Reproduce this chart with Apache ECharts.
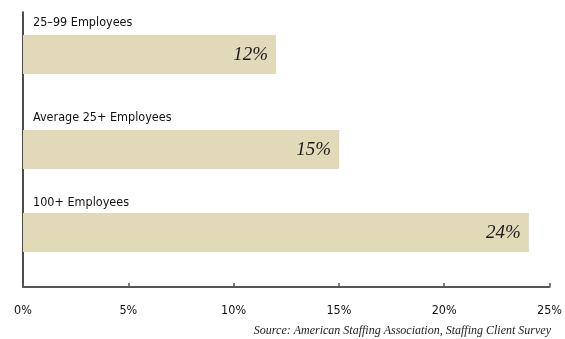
<!DOCTYPE html>
<html>
<head>
<meta charset="utf-8">
<script src="https://cdn.jsdelivr.net/npm/echarts@6/dist/echarts.min.js"></script>
<style>
  html, body { margin: 0; padding: 0; background: #fff; }
  #chart { width: 565px; height: 339px; }
</style>
</head>
<body>
<div id="chart"></div>
<script>
// Share of clients by company size
const categories = ['25\u201399 Employees', 'Average 25+ Employees', '100+ Employees'];
const values = [12, 15, 24];
const axisTicks = [0, 5, 10, 15, 20, 25];
const sourceNote = 'Source: American Staffing Association, Staffing Client Survey';

const sansNarrow = "'Liberation Sans Narrow', 'DejaVu Sans Condensed', 'Roboto', sans-serif";
const serif = "'Liberation Serif', 'DejaVu Serif', serif";
const barColor = '#e2d9b9';

// Row bands (top, height, label lift) for each bar row
const rows = [
  { top: 35, height: 39, lift: 25 },
  { top: 130, height: 39, lift: 25 },
  { top: 213, height: 39, lift: 23 }
];

const xMin = axisTicks[0];
const xMax = axisTicks[axisTicks.length - 1];
const xStep = axisTicks[1] - axisTicks[0];

const grids = [{ left: 23, right: 15, top: 12, bottom: 52 }];
const xAxes = [{
  gridIndex: 0, type: 'value', min: xMin, max: xMax, interval: xStep,
  axisLine: { show: true, lineStyle: { color: '#555', width: 2 } },
  axisTick: { show: true, inside: true, length: 4, lineStyle: { color: '#555', width: 1.5 } },
  splitLine: { show: false },
  axisLabel: { formatter: '{value}%', color: '#111', fontFamily: sansNarrow, fontSize: 12.5, margin: 17 }
}];
const yAxes = [{
  gridIndex: 0, type: 'category', data: [''],
  axisLine: { show: true, lineStyle: { color: '#111', width: 1.5 } },
  axisTick: { show: false }, axisLabel: { show: false }, splitLine: { show: false }
}];
const series = [];

categories.forEach(function (name, i) {
  const g = i + 1;
  grids.push({ left: 23, right: 15, top: rows[i].top, height: rows[i].height });
  xAxes.push({ gridIndex: g, type: 'value', min: xMin, max: xMax, show: false });
  yAxes.push({
    gridIndex: g, type: 'category', data: [name],
    axisLine: { show: false }, axisTick: { show: false },
    axisLabel: {
      inside: true, align: 'left', verticalAlign: 'bottom', margin: 10,
      padding: [0, 0, rows[i].lift, 0],
      color: '#111', fontFamily: sansNarrow, fontSize: 12.5
    }
  });
  series.push({
    type: 'bar', xAxisIndex: g, yAxisIndex: g,
    data: [values[i]], barWidth: '100%',
    itemStyle: { color: barColor },
    silent: true, animation: false,
    label: {
      show: true, position: 'insideRight', distance: 8,
      formatter: '{c}%', color: '#1a1a1a',
      fontFamily: serif, fontStyle: 'italic', fontSize: 19
    }
  });
});

const chart = echarts.init(document.getElementById('chart'), null, { renderer: 'canvas' });
chart.setOption({
  animation: false,
  backgroundColor: '#fff',
  title: {
    text: sourceNote, right: 14, bottom: 0, padding: [0, 0, 2, 0],
    textStyle: { fontFamily: serif, fontStyle: 'italic', fontWeight: 'normal', fontSize: 12, color: '#222' }
  },
  grid: grids, xAxis: xAxes, yAxis: yAxes, series: series
});
</script>
</body>
</html>
